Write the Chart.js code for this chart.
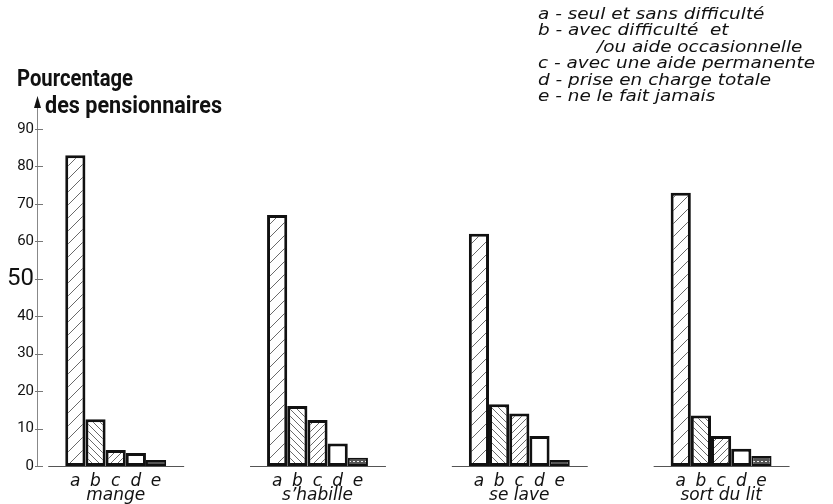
<!DOCTYPE html>
<html>
<head>
<meta charset="utf-8">
<script src="https://cdn.jsdelivr.net/npm/chart.js@4/dist/chart.umd.min.js"></script>
<style>
  html, body { margin: 0; padding: 0; background: #fff; }
  #wrap { width: 833px; height: 504px; position: relative; }
</style>
</head>
<body>
<div id="wrap"><canvas id="chart"></canvas></div>
<script>
// Activities (groups) and their position index on the x axis
const groups = ['mange', 's\u2019habille', 'se lave', 'sort du lit'];
const groupPos = [0, 1, 2, 3];

// Percentage of residents per level of autonomy
const seriesA = [83, 67, 62, 73];
const seriesB = [12.5, 16, 16.5, 13.5];
const seriesC = [4.3, 12.3, 14, 8];
const seriesD = [3.5, 6, 8, 4.6];
const seriesE = [1.6, 2.2, 1.6, 2.7];

const letters = ['a', 'b', 'c', 'd', 'e'];
const legendText = [
    'a - seul et sans difficult\u00e9',
    'b - avec difficult\u00e9  et',
    '/ou aide occasionnelle',
    'c - avec une aide permanente',
    'd - prise en charge totale',
    'e - ne le fait jamais'
];
const yTicks = [0, 10, 20, 30, 40, 50, 60, 70, 80, 90];

// hatch fills
function hatch(step, dir, color, lw) {
    const c = document.createElement('canvas');
    c.width = step; c.height = step;
    const g = c.getContext('2d');
    g.fillStyle = '#fff';
    g.fillRect(0, 0, step, step);
    g.strokeStyle = color;
    g.lineWidth = lw;
    g.beginPath();
    for (let k = -1; k <= 1; k++) {
        if (dir > 0) {
            g.moveTo(k * step, step); g.lineTo(k * step + step, 0);
        } else {
            g.moveTo(k * step, 0); g.lineTo(k * step + step, step);
        }
    }
    g.stroke();
    return g.createPattern(c, 'repeat');
}
function dots() {
    const c = document.createElement('canvas');
    c.width = 4; c.height = 4;
    const g = c.getContext('2d');
    g.fillStyle = '#555';
    g.fillRect(0, 0, 4, 4);
    g.fillStyle = '#f2f2f2';
    g.fillRect(1, 1, 2, 1);
    return g.createPattern(c, 'repeat');
}

const fills = [
    hatch(13, 1, '#6a6a6a', 1),
    hatch(7, -1, '#6a6a6a', 1),
    hatch(7, 1, '#6a6a6a', 1),
    '#ffffff',
    dots()
];
const borders = [3, 3, 3, 3, 2];
const allSeries = [seriesA, seriesB, seriesC, seriesD, seriesE];

const datasets = allSeries.map((s, i) => ({
    label: letters[i],
    data: s.map((v, j) => ({ x: groupPos[j], y: v })),
    backgroundColor: fills[i],
    borderColor: '#111',
    borderWidth: borders[i],
    borderSkipped: false,
    categoryPercentage: 0.5,
    barPercentage: 1
}));

// draw text squeezed/stretched to a given width
function fitText(ctx, text, x, y, width) {
    const w = ctx.measureText(text).width;
    ctx.save();
    ctx.translate(x, y);
    ctx.scale(width / w, 1);
    ctx.fillText(text, 0, 0);
    ctx.restore();
}

const italic = 'italic 17px "DejaVu Sans"';

const decor = {
    id: 'decor',
    afterDraw(chart) {
        const ctx = chart.ctx;
        const y = chart.scales.y;
        const area = chart.chartArea;
        const axisX = area.left;
        const zeroY = y.getPixelForValue(0);
        ctx.save();

        // vertical axis with arrow
        ctx.strokeStyle = '#888';
        ctx.lineWidth = 1;
        ctx.beginPath();
        ctx.moveTo(axisX - 0.5, 106);
        ctx.lineTo(axisX - 0.5, zeroY);
        ctx.stroke();
        ctx.fillStyle = '#111';
        ctx.beginPath();
        ctx.moveTo(axisX - 0.5, 96);
        ctx.lineTo(axisX - 4, 108);
        ctx.lineTo(axisX + 3, 108);
        ctx.closePath();
        ctx.fill();

        // tick dashes
        ctx.strokeStyle = '#777';
        yTicks.forEach(t => {
            const py = Math.round(y.getPixelForValue(t)) + 0.5;
            ctx.beginPath();
            ctx.moveTo(axisX - 3, py);
            ctx.lineTo(axisX + 5, py);
            ctx.stroke();
        });

        // axis title
        ctx.fillStyle = '#111';
        ctx.textAlign = 'left';
        ctx.textBaseline = 'alphabetic';
        ctx.font = 'bold 23px Roboto';
        fitText(ctx, 'Pourcentage', 17, 86, 116);
        fitText(ctx, 'des pensionnaires', 45, 113, 177);

        // legend
        ctx.font = 'italic 16px "DejaVu Sans"';
        const sx = 277 / ctx.measureText(legendText[3]).width;
        legendText.forEach((t, i) => {
            const x = t.startsWith('/') ? 597 : 538;
            fitText(ctx, t, x, 19 + i * 16.4, ctx.measureText(t).width * sx);
        });

        // baselines, bar letters, group names
        const metas = letters.map((_, i) => chart.getDatasetMeta(i));
        groups.forEach((name, j) => {
            const first = metas[0].data[j];
            const last = metas[metas.length - 1].data[j];
            const left = first.x - first.width / 2;
            const right = last.x + last.width / 2;
            ctx.strokeStyle = '#555';
            ctx.lineWidth = 1;
            ctx.beginPath();
            ctx.moveTo(left - 17, Math.round(zeroY) + 0.5);
            ctx.lineTo(right + 18, Math.round(zeroY) + 0.5);
            ctx.stroke();

            ctx.font = italic;
            ctx.textAlign = 'center';
            metas.forEach((m, i) => {
                ctx.fillText(letters[i], m.data[j].x, zeroY + 20);
            });
            ctx.fillText(name, (left + right) / 2, zeroY + 34);
        });
        ctx.restore();
    }
};

new Chart(document.getElementById('chart'), {
    type: 'bar',
    data: { datasets: datasets },
    options: {
        responsive: true,
        maintainAspectRatio: false,
        animation: false,
        layout: { padding: { top: 129, left: 0, right: 11, bottom: 38 } },
        plugins: {
            legend: { display: false },
            tooltip: { enabled: false }
        },
        scales: {
            x: {
                type: 'linear',
                min: -0.385,
                max: 3.5,
                offset: false,
                display: false,
                afterBuildTicks: scale => {
                    scale.ticks = groupPos.map(v => ({ value: v }));
                }
            },
            y: {
                min: 0,
                max: 90,
                afterBuildTicks: scale => {
                    scale.ticks = yTicks.map(v => ({ value: v }));
                },
                afterFit: scale => { scale.width = 38; },
                border: { display: false },
                grid: { display: false, drawTicks: false, tickLength: 0 },
                ticks: {
                    color: '#111',
                    padding: 4,
                    font: c => c.tick && c.tick.value === 50
                        ? { family: 'Roboto', size: 24 }
                        : { family: 'Roboto', size: 15 }
                }
            }
        }
    },
    plugins: [decor]
});
</script>
</body>
</html>
